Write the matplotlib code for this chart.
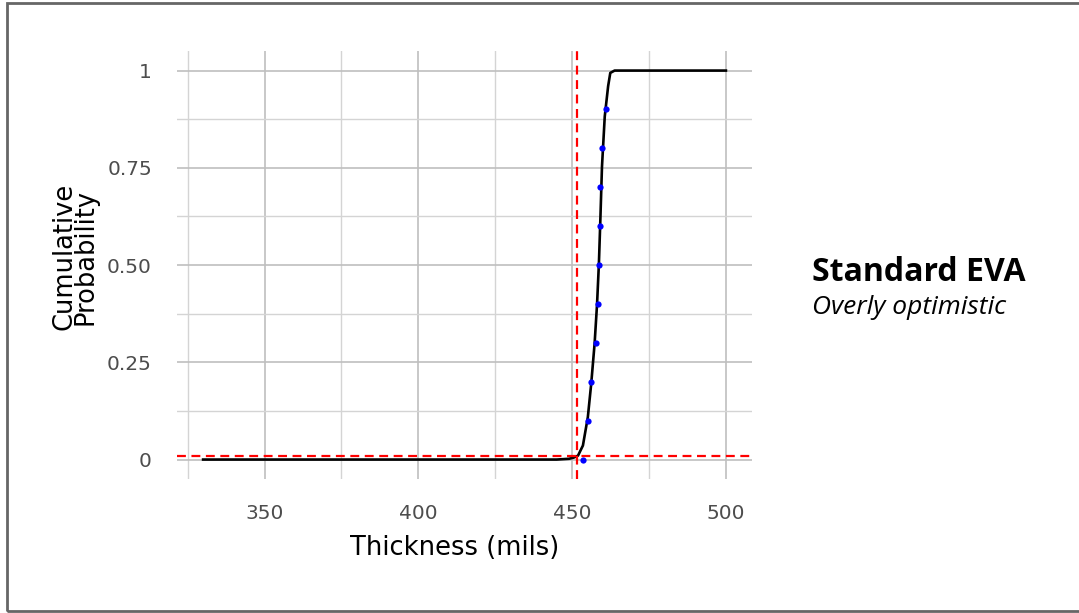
import matplotlib.pyplot as plt
from matplotlib.patches import Rectangle

# fitted CDF curve
curve_x = [330, 445, 449, 450.5, 451.9, 453.5, 455.1, 456.2, 457.3, 458.1,
           458.7, 459.2, 459.7, 460.6, 461.7, 462.4, 463.8, 500]
curve_y = [0, 0, 0.002, 0.005, 0.01, 0.036, 0.109, 0.195, 0.298, 0.40,
           0.504, 0.624, 0.753, 0.882, 0.96, 0.994, 1.0, 1.0]

# observed points
obs_x = [453.5, 455.0, 456.1, 457.9, 458.4, 458.8, 459.0, 459.2, 459.6, 461.1]
obs_y = [0.0, 0.1, 0.2, 0.3, 0.4, 0.5, 0.6, 0.7, 0.8, 0.9]

# reference lines
ref_x = 451.7
ref_y = 0.01

x_ticks = [350, 400, 450, 500]
y_ticks = [0, 0.25, 0.5, 0.75, 1]
y_tick_labels = ['0', '0.25', '0.50', '0.75', '1']

fig = plt.figure(figsize=(10.79, 6.13), dpi=100)
ax = fig.add_axes([0.164, 0.2186, 0.533, 0.698])

ax.plot(curve_x, curve_y, color='black', lw=1.9, zorder=3)
ax.plot(obs_x, obs_y, 'o', color='#0000ff', ms=4.5, mec='none', zorder=4)
ax.axvline(ref_x, color='#ff0000', lw=1.6, ls=(0, (4, 2.5)), zorder=5)
ax.axhline(ref_y, color='#ff0000', lw=1.6, ls=(0, (4, 2.5)), zorder=5)

ax.set_xlim(321.5, 508.5)
ax.set_ylim(-0.05, 1.05)
ax.set_xticks(x_ticks)
ax.set_yticks(y_ticks)
ax.set_yticklabels(y_tick_labels)
ax.set_xticks([325, 375, 425, 475], minor=True)
ax.set_yticks([0.125, 0.375, 0.625, 0.875], minor=True)
ax.grid(True, which='major', color='#bfbfbf', lw=1.2)
ax.grid(True, which='minor', color='#d4d4d4', lw=1.0)
ax.set_axisbelow(True)
for s in ax.spines.values():
    s.set_visible(False)
ax.tick_params(which='both', length=0)
ax.tick_params(axis='x', pad=18, labelsize=14.5, labelcolor='#4d4d4d')
ax.tick_params(axis='y', pad=18, labelsize=14.5, labelcolor='#4d4d4d')

ax.set_xlabel('Thickness (mils)', fontsize=18.5)
ax.set_ylabel('Cumulative\nProbability', fontsize=18.5, linespacing=0.75)
ax.xaxis.set_label_coords(0.482, -0.131)
ax.yaxis.set_label_coords(-0.137, 0.52)

fig.text(0.753, 0.555, 'Standard EVA', fontsize=23, fontweight='bold',
         family='Open Sans', va='center')
fig.text(0.753, 0.498, 'Overly optimistic', fontsize=19, style='italic',
         family='Open Sans', va='center')

# outer frame
fig.patches.append(Rectangle((0.0065, 0.003), 1.2, 0.992, transform=fig.transFigure,
                             fill=False, edgecolor='#666666', lw=2))

fig.savefig('out.png', dpi=100)
